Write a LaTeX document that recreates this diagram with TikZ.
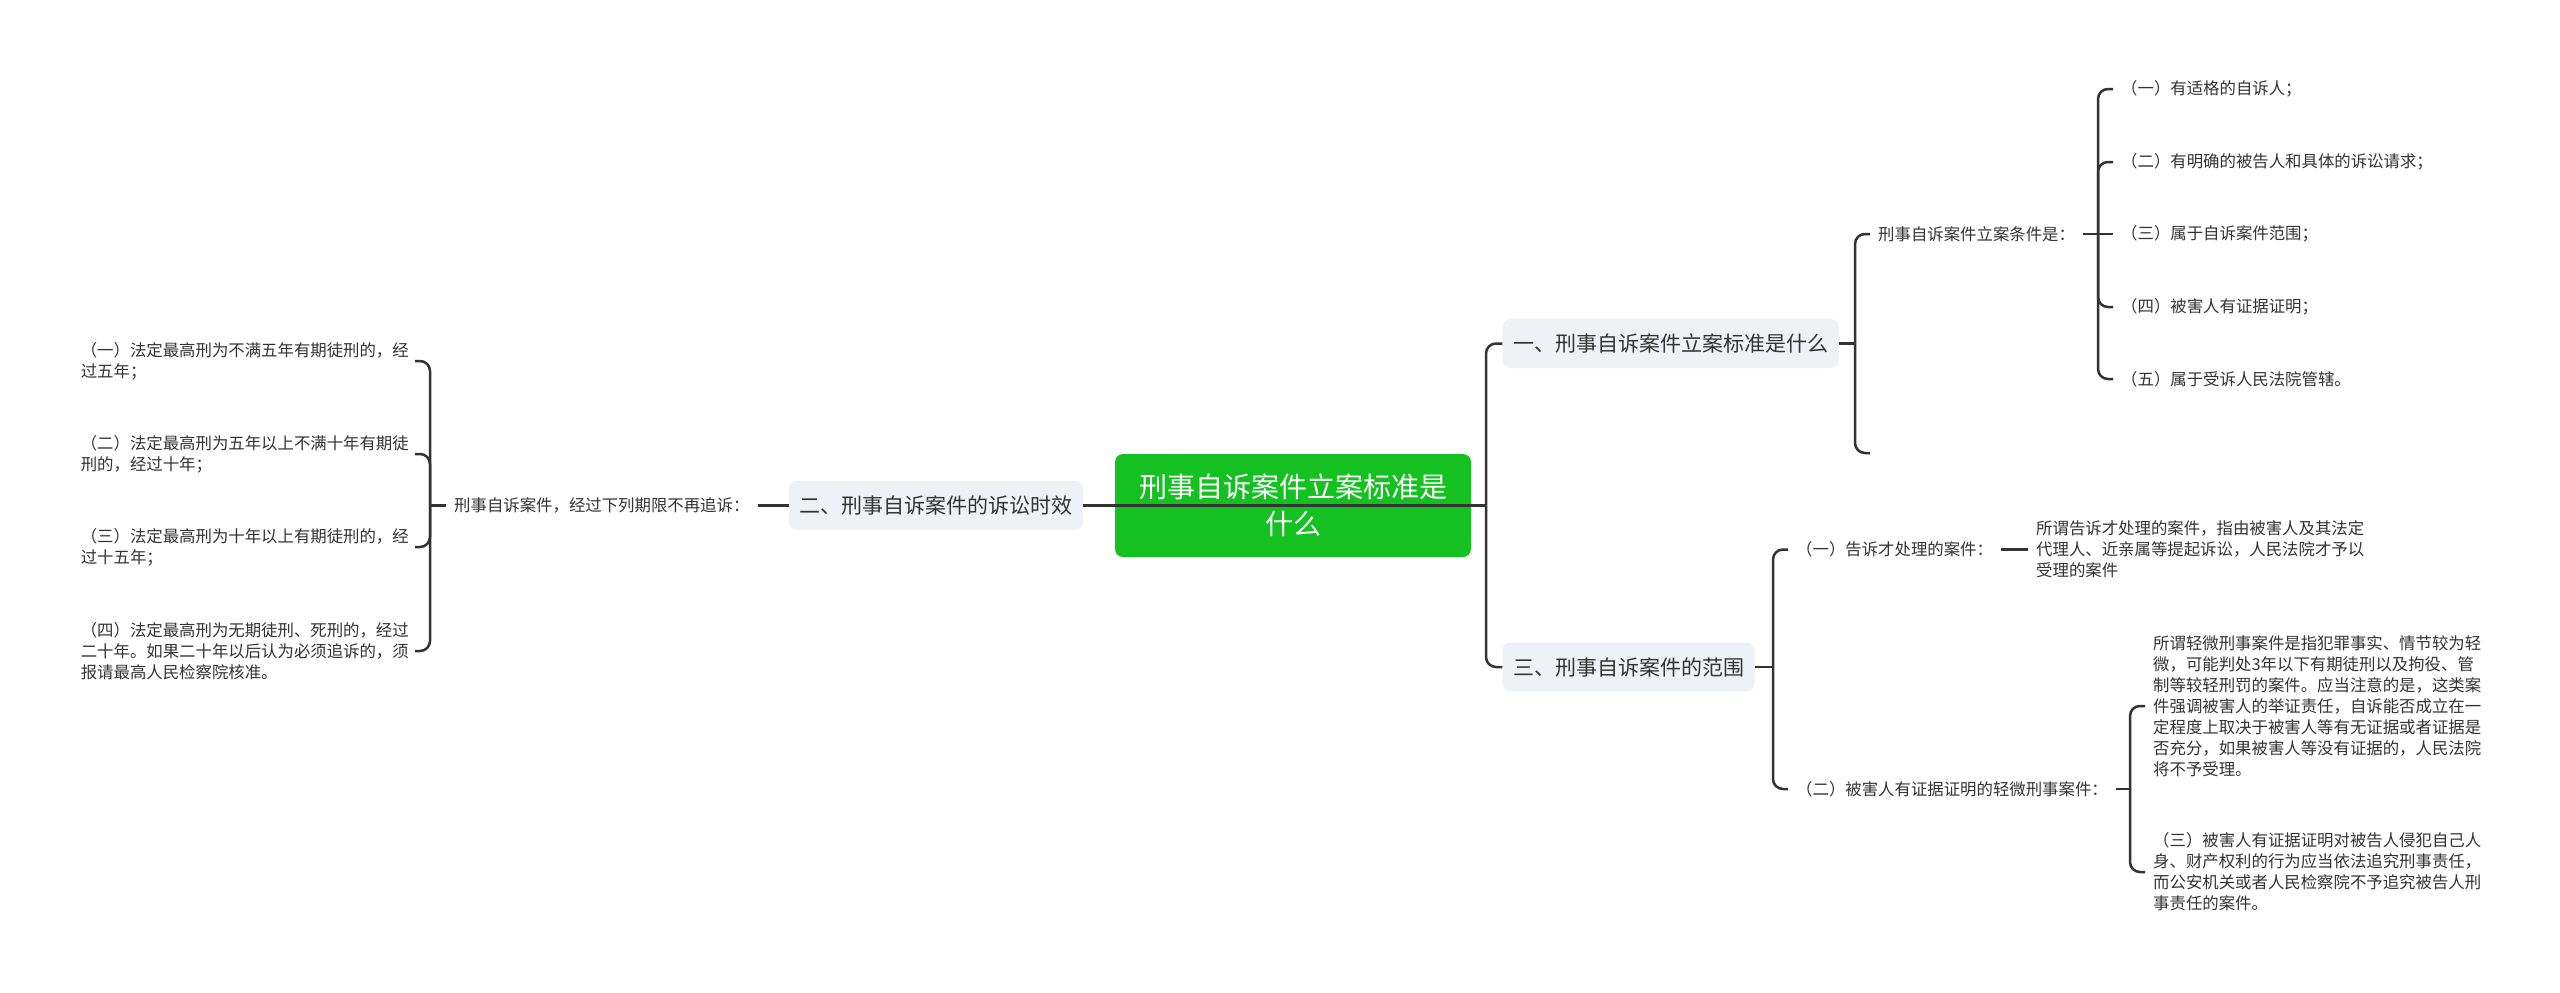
\documentclass[tikz,border=0pt]{standalone}
\usepackage{fontspec}
\setmainfont{Noto Sans CJK SC}
\definecolor{txt}{RGB}{51,51,51}
\definecolor{linec}{RGB}{51,51,51}
\definecolor{boxfill}{RGB}{238,241,245}
\definecolor{rootgreen}{RGB}{21,192,33}
\tikzset{
  conn/.style={draw=linec, line width=2.5pt},
  rc/.style={rounded corners=10pt},
  leaf/.style={font=\fontsize{16.4pt}{21pt}\selectfont, text=txt, align=left, inner xsep=8pt, inner ysep=0pt},
  lvlbox/.style={fill=boxfill, rounded corners=8pt, font=\fontsize{21pt}{26pt}\selectfont, text=txt, inner xsep=10.5pt, inner ysep=0pt, minimum height=49pt},
  rootbox/.style={fill=rootgreen, rounded corners=8pt, font=\fontsize{28pt}{37pt}\selectfont, text=white, align=center, minimum width=356pt, minimum height=103pt, inner sep=0pt}
}
\begin{document}
\begin{tikzpicture}[x=1pt,y=-1pt]
\useasboundingbox[fill=white] (0,0) rectangle (2560,993);

% junction coordinates
\coordinate (jl) at (430,505.5);
\coordinate (jr) at (1486,505.5);
\coordinate (j1) at (1855,343.5);
\coordinate (j11) at (2098,234);
\coordinate (j3) at (1773,667);
\coordinate (j32) at (2130,789);
\coordinate (empty) at (1870,453);

% root and level-1 boxes
\node[rootbox] (root) at (1293,505.5) {刑事自诉案件立案标准是\\什么};
\node[lvlbox] (b2) at (936,505.5) {二、刑事自诉案件的诉讼时效};
\node[lvlbox] (b1) at (1670.5,343.5) {一、刑事自诉案件立案标准是什么};
\node[lvlbox] (b3) at (1628.5,667) {三、刑事自诉案件的范围};

% left branch
\node[leaf, anchor=west] (m) at (446,505.5) {刑事自诉案件，经过下列期限不再追诉：};
\node[leaf, anchor=east, inner xsep=6pt] (L1) at (415,361) {（一）法定最高刑为不满五年有期徒刑的，经\\过五年；};
\node[leaf, anchor=east, inner xsep=6pt] (L2) at (415,454) {（二）法定最高刑为五年以上不满十年有期徒\\刑的，经过十年；};
\node[leaf, anchor=east, inner xsep=6pt] (L3) at (415,547) {（三）法定最高刑为十年以上有期徒刑的，经\\过十五年；};
\node[leaf, anchor=east, inner xsep=6pt] (L4) at (415,651) {（四）法定最高刑为无期徒刑、死刑的，经过\\二十年。如果二十年以后认为必须追诉的，须\\报请最高人民检察院核准。};

% right upper branch
\node[leaf, anchor=west] (t0) at (1870,234) {刑事自诉案件立案条件是：};
\node[leaf, anchor=west] (i1) at (2113,89) {（一）有适格的自诉人；};
\node[leaf, anchor=west] (i2) at (2113,162) {（二）有明确的被告人和具体的诉讼请求；};
\node[leaf, anchor=west] (i3) at (2113,234) {（三）属于自诉案件范围；};
\node[leaf, anchor=west] (i4) at (2113,307) {（四）被害人有证据证明；};
\node[leaf, anchor=west] (i5) at (2113,379) {（五）属于受诉人民法院管辖。};

% right lower branch
\node[leaf, anchor=west] (c1) at (1788,549.5) {（一）告诉才处理的案件：};
\node[leaf, anchor=west] (d1) at (2028,549.5) {所谓告诉才处理的案件，指由被害人及其法定\\代理人、近亲属等提起诉讼，人民法院才予以\\受理的案件};
\node[leaf, anchor=west] (c2) at (1788,789) {（二）被害人有证据证明的轻微刑事案件：};
\node[leaf, anchor=west] (e1) at (2145,706) {所谓轻微刑事案件是指犯罪事实、情节较为轻\\微，可能判处3年以下有期徒刑以及拘役、管\\制等较轻刑罚的案件。应当注意的是，这类案\\件强调被害人的举证责任，自诉能否成立在一\\定程度上取决于被害人等有无证据或者证据是\\否充分，如果被害人等没有证据的，人民法院\\将不予受理。};
\node[leaf, anchor=west] (e2) at (2145,872) {（三）被害人有证据证明对被告人侵犯自己人\\身、财产权利的行为应当依法追究刑事责任，\\而公安机关或者人民检察院不予追究被告人刑\\事责任的案件。};

% connectors
\draw[conn] (b2.east) -- (jr);
\draw[conn] (m.east) -- (b2.west);
\draw[conn] (jl) -- (m.west);
\foreach \n in {L1,L2,L3,L4} { \draw[conn,rc] (jl) |- (\n.east); }
\draw[conn,rc] (jr) |- (b1.west);
\draw[conn,rc] (jr) |- (b3.west);
\draw[conn] (b1.east) -- (j1);
\draw[conn,rc] (j1) |- (t0.west);
\draw[conn,rc] (j1) |- (empty);
\draw[conn] (t0.east) -- (j11);
\draw[conn,rc] (j11) |- (i1.west);
\draw[conn,rc] (j11) |- (i2.west);
\draw[conn] (j11) -- (i3.west);
\draw[conn,rc] (j11) |- (i4.west);
\draw[conn,rc] (j11) |- (i5.west);
\draw[conn] (b3.east) -- (j3);
\draw[conn,rc] (j3) |- (c1.west);
\draw[conn,rc] (j3) |- (c2.west);
\draw[conn] (c1.east) -- (d1.west);
\draw[conn] (c2.east) -- (j32);
\draw[conn,rc] (j32) |- (e1.west);
\draw[conn,rc] (j32) |- (e2.west);
\end{tikzpicture}
\end{document}
